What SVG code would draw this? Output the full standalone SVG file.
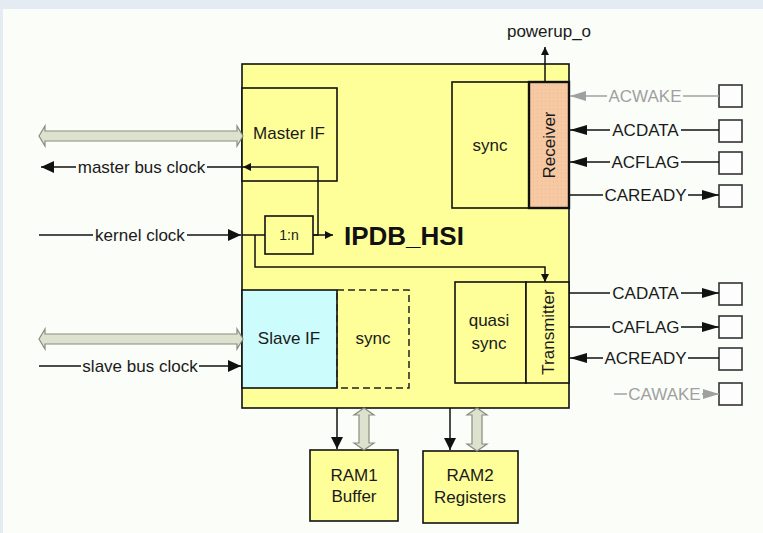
<svg xmlns="http://www.w3.org/2000/svg" width="763" height="533" viewBox="0 0 763 533">
<style>
text{font-family:"Liberation Sans",Arial,sans-serif;font-size:17px;fill:#1a1a1a}
.c{text-anchor:middle}
.g{fill:#a0a0a0}
.blk{fill:#ffff99;stroke:#111;stroke-width:1.6}
.ln{fill:none;stroke:#111;stroke-width:1.5}
.lg{fill:none;stroke:#a0a0a0;stroke-width:1.5}
.pad{fill:#fdfdfd;stroke:#333;stroke-width:1.6}
.bus{fill:#dde2cf;stroke:#8a8c80;stroke-width:1.2}
</style>
<defs>
<pattern id="dots" width="4" height="4" patternUnits="userSpaceOnUse"><rect width="4" height="4" fill="#f7c9a3"/><rect x="1" y="1" width="1" height="1" fill="#ebbb94"/></pattern>
<marker id="aL" viewBox="0 0 13 12" refX="13" refY="6" markerWidth="13" markerHeight="12" orient="auto" markerUnits="userSpaceOnUse"><path d="M0,0L13,6L0,12Z" fill="#111"/></marker>
<marker id="aR" viewBox="0 0 17 10" refX="17" refY="5" markerWidth="17" markerHeight="10" orient="auto" markerUnits="userSpaceOnUse"><path d="M0,0L17,5L0,10Z" fill="#111"/></marker>
<marker id="aG" viewBox="0 0 16 10" refX="16" refY="5" markerWidth="16" markerHeight="10" orient="auto" markerUnits="userSpaceOnUse"><path d="M0,0L16,5L0,10Z" fill="#a0a0a0"/></marker>
<marker id="aS" viewBox="0 0 8 8" refX="8" refY="4" markerWidth="8" markerHeight="8" orient="auto" markerUnits="userSpaceOnUse"><path d="M0,0L8,4L0,8Z" fill="#111"/></marker>
<marker id="aD" viewBox="0 0 12 12" refX="12" refY="6" markerWidth="12" markerHeight="12" orient="auto" markerUnits="userSpaceOnUse"><path d="M0,0L12,6L0,12Z" fill="#111"/></marker>
</defs>
<rect x="0" y="0" width="763" height="533" fill="#e5ebf3"/>
<rect x="3" y="9" width="760" height="524" fill="#fbfdf9"/>

<g id="ipdb_hsi">
<rect class="blk" x="242" y="64" width="327" height="344" stroke-width="2"/>
<text x="344" y="245" font-weight="bold" style="font-size:26px;fill:#111">IPDB_HSI</text>
</g>
<g id="master_if">
<rect class="blk" x="242" y="88" width="95" height="93"/>
<text class="c" x="289" y="139">Master IF</text>
</g>
<g id="divider">
<rect class="blk" x="265" y="216" width="48" height="38"/>
<text class="c" x="289" y="240" style="font-size:14px">1:n</text>
</g>
<g id="sync_rx">
<rect class="blk" x="452" y="82" width="77" height="126"/>
<text class="c" x="490" y="151">sync</text>
</g>
<g id="receiver">
<rect x="529" y="82" width="40" height="126" fill="url(#dots)" stroke="#111" stroke-width="2.4"/>
<text class="c" transform="translate(555,145) rotate(-90)">Receiver</text>
</g>
<g id="quasi_sync">
<rect class="blk" x="455" y="282" width="71" height="101"/>
<text class="c" x="489" y="326">quasi</text>
<text class="c" x="489" y="349">sync</text>
</g>
<g id="transmitter">
<rect class="blk" x="526" y="282" width="43" height="101"/>
<text class="c" transform="translate(554,332) rotate(-90)">Transmitter</text>
</g>
<g id="slave_if">
<rect x="242" y="290" width="95" height="98" fill="#ccfcfc" stroke="#111" stroke-width="1.6"/>
<text class="c" x="289" y="344">Slave IF</text>
</g>
<g id="sync_slave">
<rect x="337" y="290" width="72" height="98" fill="none" stroke="#222" stroke-width="1.5" stroke-dasharray="7,4"/>
<text class="c" x="373" y="344">sync</text>
</g>
<g id="ram1">
<rect class="blk" x="310" y="450" width="88" height="71"/>
<text class="c" x="354" y="481">RAM1</text>
<text class="c" x="354" y="502">Buffer</text>
</g>
<g id="ram2">
<rect class="blk" x="423" y="451" width="95" height="72"/>
<text class="c" x="470" y="481">RAM2</text>
<text class="c" x="470" y="503">Registers</text>
</g>
<g id="pads">
<rect class="pad" x="719" y="85" width="23" height="22"/>
<rect class="pad" x="719" y="120" width="23" height="22"/>
<rect class="pad" x="719" y="152" width="23" height="22"/>
<rect class="pad" x="719" y="185" width="23" height="22"/>
<rect class="pad" x="719" y="283" width="23" height="22"/>
<rect class="pad" x="719" y="316" width="23" height="22"/>
<rect class="pad" x="719" y="348" width="23" height="22"/>
<rect class="pad" x="719" y="383" width="23" height="22"/>
</g>

<g id="connectors">
<path class="bus" d="M39,136L45,126L45,131L237,131L237,126L243,136L237,146L237,141L45,141L45,146Z"/>
<path class="bus" d="M39,339L45,329L45,334L237,334L237,329L243,339L237,349L237,344L45,344L45,349Z"/>
<path class="bus" d="M364,408L374,415L369,415L369,443L374,443L364,450L354,443L359,443L359,415L354,415Z"/>
<path class="bus" d="M477,408L487,415L482,415L482,444L487,444L477,451L467,444L472,444L472,415L467,415Z"/>
<path class="ln" d="M337,408V449" marker-end="url(#aD)"/>
<path class="ln" d="M450,408V450" marker-end="url(#aD)"/>
<path class="ln" d="M313,235H318V167H243" marker-end="url(#aS)"/>
<path class="ln" d="M243,167H207"/>
<text class="c" x="141.5" y="173">master bus clock</text>
<path class="ln" d="M76,167H41" marker-end="url(#aL)"/>
<path class="ln" d="M39,235H93"/>
<text class="c" x="140" y="241">kernel clock</text>
<path class="ln" d="M187,235H241" marker-end="url(#aL)"/>
<path class="ln" d="M242,235H265"/>
<path class="ln" d="M313,235H333" marker-end="url(#aS)"/>
<path class="ln" d="M255,235V267H545V282" marker-end="url(#aS)"/>
<path class="ln" d="M39,366H81"/>
<text class="c" x="140" y="372">slave bus clock</text>
<path class="ln" d="M199,366H241" marker-end="url(#aL)"/>
<path class="ln" d="M545,82V47" marker-end="url(#aS)"/>
<text class="c" x="549" y="37">powerup_o</text>
<path class="lg" d="M719,96H683"/>
<text class="c g" x="645" y="102">ACWAKE</text>
<path class="lg" d="M607,96H570" marker-end="url(#aG)"/>
<path class="ln" d="M719,130H681"/>
<text class="c" x="645.5" y="136">ACDATA</text>
<path class="ln" d="M610,130H570" marker-end="url(#aR)"/>
<path class="ln" d="M719,162H681"/>
<text class="c" x="645.5" y="168">ACFLAG</text>
<path class="ln" d="M610,162H570" marker-end="url(#aR)"/>
<path class="ln" d="M569,195H603"/>
<text class="c" x="645.5" y="201">CAREADY</text>
<path class="ln" d="M688,195H719" marker-end="url(#aR)"/>
<path class="ln" d="M569,293H610"/>
<text class="c" x="645.5" y="299">CADATA</text>
<path class="ln" d="M681,293H719" marker-end="url(#aR)"/>
<path class="ln" d="M569,327H610"/>
<text class="c" x="645.5" y="333">CAFLAG</text>
<path class="ln" d="M681,327H719" marker-end="url(#aR)"/>
<path class="ln" d="M719,358H688"/>
<text class="c" x="645.5" y="364">ACREADY</text>
<path class="ln" d="M603,358H570" marker-end="url(#aR)"/>
<path class="lg" d="M614,394H627"/>
<text class="c g" x="664.5" y="400">CAWAKE</text>
<path class="lg" d="M702,394H719" marker-end="url(#aG)"/>
</g>
</svg>
